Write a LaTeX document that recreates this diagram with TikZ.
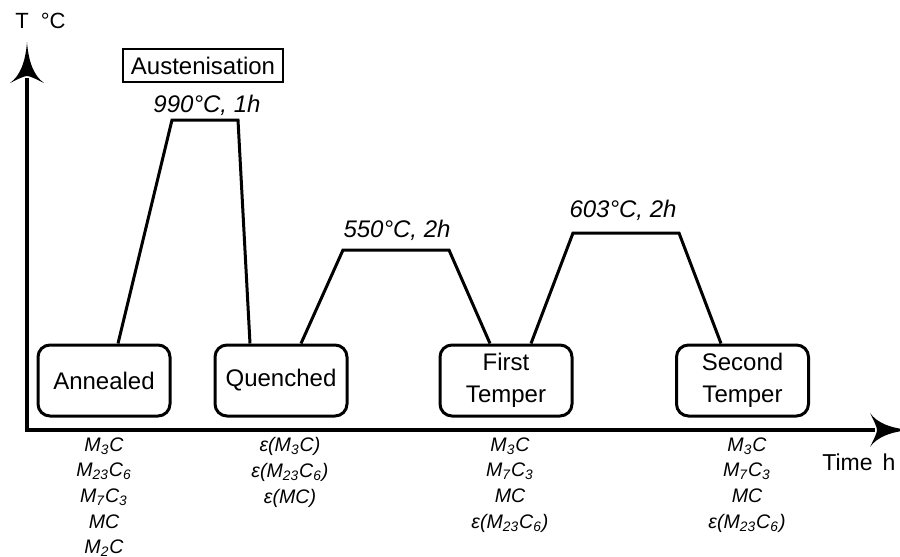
\documentclass[tikz,border=0pt]{standalone}
\usepackage{fontspec}
\setmainfont{Liberation Sans}
\usetikzlibrary{calc}
\begin{document}
\begin{tikzpicture}[x=0.5pt,y=-0.5pt,
  stage/.style={draw,line width=1.5pt,rounded corners=6pt,minimum width=66pt,minimum height=35.5pt,inner sep=0pt,align=center,font=\fontsize{12}{16}\selectfont},
  carb/.style={anchor=north,inner sep=0pt,align=center,font=\fontsize{9.8}{12.85}\selectfont\itshape},
  temp/.style={font=\fontsize{12}{14}\selectfont\itshape,inner sep=0pt},
  curve/.style={line width=1.5pt,line join=miter},
  axis/.style={line width=1.6pt,line join=miter}]
\useasboundingbox (0,0) rectangle (900,557);
\clip (0,0) rectangle (900,557);
% axes
\coordinate (O) at (27,430);
\coordinate (ytip) at (27,42);
\coordinate (xtip) at (911,430);
\draw[axis] (27,78) -- (O) -- (875,430);
\fill (ytip) .. controls (25.5,62) and (20,76) .. (10,83) .. controls (18,79) and (24,76) .. (27,76) .. controls (30,76) and (36,79) .. (44,83) .. controls (34,76) and (28.5,62) .. (ytip);
\fill (xtip) .. controls (891,428.5) and (877,423) .. (870,413) .. controls (874,421) and (877,427) .. (877,430) .. controls (877,433) and (874,439) .. (870,447) .. controls (877,437) and (891,431.5) .. (xtip);
\node[anchor=west,font=\fontsize{11}{13}\selectfont,inner sep=0pt] (tlab) at (15,21) {T\hspace{6pt}°C};
\node[anchor=west,font=\fontsize{11.5}{13}\selectfont,inner sep=0pt] (time) at (822,462) {Time\hspace{5pt}h};
% stages
\node[stage] (ann) at (104,380.5) {Annealed};
\node[stage] (que) at (281,380.5) {Quenched};
\node[stage] (ft) at (506,380.5) {First\\Temper};
\node[stage] (st) at (742.5,380.5) {Second\\Temper};
\node[draw,line width=0.8pt,minimum width=80pt,minimum height=16.5pt,inner sep=0pt,font=\fontsize{12}{14}\selectfont] (aus) at (203,65.5) {Austenisation};
% temperatures
\node[temp] (t1) at (207,105) {990°C, 1h};
\node[temp] (t2) at (397,230) {550°C, 2h};
\node[temp] (t3) at (623,210) {603°C, 2h};
% cycles
\coordinate (p1a) at (172,120); \coordinate (p1b) at (238,120);
\coordinate (p2a) at (343,250); \coordinate (p2b) at (449,250);
\coordinate (p3a) at (573,233); \coordinate (p3b) at (679,233);
\draw[curve] ($(ann.north)+(14,0)$) -- (p1a) -- (p1b) -- ($(que.north)+(-31,0)$);
\draw[curve] ($(que.north)+(20,0)$) -- (p2a) -- (p2b) -- ($(ft.north)+(-16,0)$);
\draw[curve] ($(ft.north)+(25,0)$) -- (p3a) -- (p3b) -- ($(st.north)+(-21.5,0)$);
% carbides
\node[carb] (c1) at (104,437) {M\textsubscript{3}C\\M\textsubscript{23}C\textsubscript{6}\\M\textsubscript{7}C\textsubscript{3}\\MC\\M\textsubscript{2}C};
\node[carb] (c2) at (290,437) {ε(M\textsubscript{3}C)\\ε(M\textsubscript{23}C\textsubscript{6})\\ε(MC)};
\node[carb] (c3) at (510,437) {M\textsubscript{3}C\\M\textsubscript{7}C\textsubscript{3}\\MC\\ε(M\textsubscript{23}C\textsubscript{6})};
\node[carb] (c4) at (747,437) {M\textsubscript{3}C\\M\textsubscript{7}C\textsubscript{3}\\MC\\ε(M\textsubscript{23}C\textsubscript{6})};
\end{tikzpicture}
\end{document}
